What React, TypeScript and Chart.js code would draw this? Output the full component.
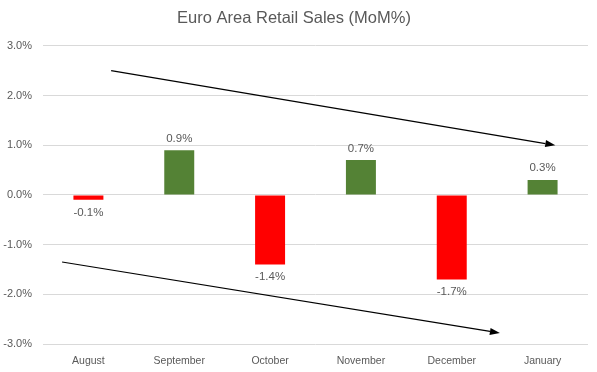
import React, { useEffect, useRef } from "react";
import { Chart, registerables } from "chart.js";

Chart.register(...registerables);

const categories = ["August", "September", "October", "November", "December", "January"];
const salesMoM = [-0.1, 0.9, -1.4, 0.7, -1.7, 0.3];
const yTicks = [-3, -2, -1, 0, 1, 2, 3];
// arrows as [categoryIndex, value%] pairs (start, end)
const upperArrow = [[0.25, 2.5], [5.14, 1.0]];
const lowerArrow = [[-0.29, -1.35], [4.53, -2.78]];

const GREEN = "#548235";
const RED = "#FF0000";
const TEXT = "#595959";
const FONT = "'Liberation Sans Narrow', 'Arial Narrow', 'Liberation Sans', sans-serif";

const labelsPlugin = {
  id: "valueLabels",
  afterDatasetsDraw(chart: any) {
    const ctx = chart.ctx;
    const meta = chart.getDatasetMeta(0);
    ctx.save();
    ctx.font = `11.5px ${FONT}`;
    ctx.fillStyle = TEXT;
    ctx.textAlign = "center";
    meta.data.forEach((bar: any, i: number) => {
      const v = salesMoM[i];
      const txt = v.toFixed(1) + "%";
      if (v >= 0) {
        ctx.textBaseline = "bottom";
        ctx.fillText(txt, bar.x, bar.y - 6);
      } else {
        ctx.textBaseline = "top";
        ctx.fillText(txt, bar.x, bar.y + 7);
      }
    });
    ctx.restore();
  },
};

const arrowPlugin = {
  id: "arrows",
  afterDatasetsDraw(chart: any) {
    const ctx = chart.ctx;
    const xs = chart.scales.x;
    const ys = chart.scales.y;
    const draw = (arr: number[][]) => {
      const x1 = xs.getPixelForValue(arr[0][0]);
      const y1 = ys.getPixelForValue(arr[0][1]);
      const x2 = xs.getPixelForValue(arr[1][0]);
      const y2 = ys.getPixelForValue(arr[1][1]);
      const ang = Math.atan2(y2 - y1, x2 - x1);
      const headLen = 10;
      const headW = 3.5;
      const bx = x2 - headLen * Math.cos(ang);
      const by = y2 - headLen * Math.sin(ang);
      ctx.save();
      ctx.strokeStyle = "#000";
      ctx.fillStyle = "#000";
      ctx.lineWidth = 1.2;
      ctx.beginPath();
      ctx.moveTo(x1, y1);
      ctx.lineTo(bx, by);
      ctx.stroke();
      ctx.beginPath();
      ctx.moveTo(x2, y2);
      ctx.lineTo(bx + headW * Math.sin(ang), by - headW * Math.cos(ang));
      ctx.lineTo(bx - headW * Math.sin(ang), by + headW * Math.cos(ang));
      ctx.closePath();
      ctx.fill();
      ctx.restore();
    };
    draw(upperArrow);
    draw(lowerArrow);
  },
};

export default function App() {
  const ref = useRef<HTMLCanvasElement | null>(null);
  useEffect(() => {
    document.body.style.margin = "0";
    const chart = new Chart(ref.current as HTMLCanvasElement, {
      type: "bar",
      data: {
        labels: categories,
        datasets: [
          {
            data: salesMoM,
            backgroundColor: salesMoM.map((v) => (v >= 0 ? GREEN : RED)),
            barPercentage: 0.33,
            categoryPercentage: 1,
          },
        ],
      },
      options: {
        animation: false,
        responsive: false,
        maintainAspectRatio: false,
        layout: { padding: { left: 0, right: 9, top: 1, bottom: 0 } },
        plugins: {
          legend: { display: false },
          tooltip: { enabled: false },
          title: {
            display: true,
            text: "Euro Area Retail Sales (MoM%)",
            color: TEXT,
            font: { family: FONT, size: 16.5, weight: "normal" },
            padding: { top: 8, bottom: 17 },
          },
        },
        scales: {
          x: {
            grid: { display: false, drawTicks: false },
            border: { display: false },
            ticks: { color: TEXT, font: { family: FONT, size: 10.5 }, padding: 11 },
            afterFit: (s: any) => {
              s.height = 28;
            },
          },
          y: {
            min: -3,
            max: 3,
            afterBuildTicks: (s: any) => {
              s.ticks = yTicks.map((v) => ({ value: v }));
            },
            grid: { color: "#d9d9d9", drawTicks: false, lineWidth: 1 },
            border: { display: false },
            ticks: {
              color: TEXT,
              font: { family: FONT, size: 11 },
              padding: 11,
              callback: (v: any) => Number(v).toFixed(1) + "%",
            },
            afterFit: (s: any) => {
              s.width = 43;
            },
          },
        },
      },
      plugins: [labelsPlugin, arrowPlugin],
    } as any);
    return () => chart.destroy();
  }, []);
  return (
    <div style={{ width: 597, height: 372 }}>
      <canvas ref={ref} width={597} height={372} style={{ display: "block" }} />
    </div>
  );
}
